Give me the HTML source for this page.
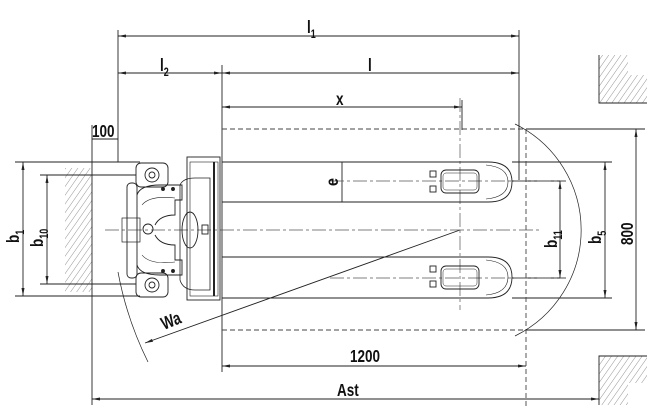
<!DOCTYPE html>
<html><head><meta charset="utf-8"><style>
html,body{margin:0;padding:0;background:#fff;}
svg{display:block;}
text{font-family:"Liberation Sans",sans-serif;font-weight:bold;fill:#111;}
</style></head><body>
<svg width="666" height="409" viewBox="0 0 666 409" xmlns="http://www.w3.org/2000/svg">
<defs>
<pattern id="h" width="5" height="5" patternUnits="userSpaceOnUse" patternTransform="rotate(35)">
<line x1="0" y1="0" x2="0" y2="5" stroke="#666" stroke-width="0.7"/>
</pattern>
<marker id="a" markerWidth="8" markerHeight="6" refX="8" refY="3" orient="auto-start-reverse" markerUnits="userSpaceOnUse">
<path d="M0,1.5 L8,3 L0,4.5" fill="#222"/>
</marker>
</defs>
<g stroke="#222" stroke-width="0.9" fill="none">
<!-- hatched walls -->
<rect x="65" y="168" width="27" height="124" fill="url(#h)" stroke="none"/>
<polygon points="599,55 628,55 628,75 647,75 647,103 599,103" fill="url(#h)" stroke="none"/>
<path d="M599,55 V103 H647"/>
<polygon points="599,356 647,356 647,383 628,383 628,405 599,405" fill="url(#h)" stroke="none"/>
<path d="M599,405 V356 H647"/>

<!-- extension lines -->
<line x1="118" y1="30" x2="118" y2="162"/>
<line x1="519" y1="30" x2="519" y2="180"/>
<line x1="222" y1="65" x2="222" y2="372"/>
<line x1="462" y1="100" x2="462" y2="130"/>
<line x1="92" y1="125" x2="92" y2="405"/>
<line x1="15" y1="162" x2="140" y2="162"/>
<line x1="15" y1="296" x2="140" y2="296"/>
<line x1="40" y1="175" x2="136" y2="175"/>
<line x1="40" y1="284" x2="136" y2="284"/>
<line x1="526" y1="129" x2="645" y2="129"/>
<line x1="526" y1="330" x2="645" y2="330"/>
<line x1="512" y1="162" x2="612" y2="162"/>
<line x1="512" y1="298" x2="612" y2="298"/>
<line x1="512" y1="181" x2="566" y2="181"/>
<line x1="512" y1="278" x2="566" y2="278"/>

<!-- dimension lines -->
<line x1="118" y1="36" x2="519" y2="36" marker-start="url(#a)" marker-end="url(#a)"/>
<line x1="118" y1="73" x2="222" y2="73" marker-start="url(#a)" marker-end="url(#a)"/>
<line x1="222" y1="73" x2="519" y2="73" marker-start="url(#a)" marker-end="url(#a)"/>
<line x1="222" y1="107" x2="462" y2="107" marker-start="url(#a)" marker-end="url(#a)"/>
<line x1="92" y1="139" x2="118" y2="139"/>
<line x1="23" y1="162" x2="23" y2="296" marker-start="url(#a)" marker-end="url(#a)"/>
<line x1="47" y1="175" x2="47" y2="284" marker-start="url(#a)" marker-end="url(#a)"/>
<line x1="560" y1="181" x2="560" y2="278" marker-start="url(#a)" marker-end="url(#a)"/>
<line x1="605" y1="162" x2="605" y2="298" marker-start="url(#a)" marker-end="url(#a)"/>
<line x1="636" y1="129" x2="636" y2="330" marker-start="url(#a)" marker-end="url(#a)"/>
<line x1="342" y1="162" x2="342" y2="202"/>
<line x1="222" y1="366" x2="526" y2="366" marker-start="url(#a)" marker-end="url(#a)"/>
<line x1="92" y1="399" x2="599" y2="399" marker-start="url(#a)" marker-end="url(#a)"/>
<line x1="145" y1="343" x2="460" y2="230" marker-start="url(#a)"/>

<!-- dashed -->
<g stroke-dasharray="5,3" stroke="#444">
<line x1="222" y1="129" x2="526" y2="129"/>
<line x1="222" y1="330" x2="526" y2="330"/>
<line x1="526" y1="129" x2="526" y2="409"/>
</g>
<g stroke-dasharray="14,3,3,3" stroke="#555" stroke-width="0.7">
<line x1="105" y1="230" x2="540" y2="230"/>
<line x1="330" y1="181" x2="566" y2="181"/>
<line x1="330" y1="278" x2="566" y2="278"/>
<line x1="460" y1="98" x2="460" y2="310"/>
</g>

<!-- arcs -->
<path d="M515,124 A118,118 0 0 1 515,336" stroke-width="0.7"/>
<path d="M118,272 A342,342 0 0 0 148,362" stroke-width="0.7"/>

<!-- forks -->
<path d="M222,162 H488 Q512,162 512,182 Q512,202 488,202 H222"/>
<path d="M486,165 Q508,167 508,182 Q508,197 486,199" stroke-width="0.6"/>
<path d="M222,257 H488 Q512,257 512,277 Q512,298 488,298 H222"/>
<path d="M486,260 Q508,262 508,277 Q508,293 486,295" stroke-width="0.6"/>
<rect x="441" y="170" width="38" height="23" rx="5"/>
<rect x="443" y="173" width="34" height="17" rx="3" stroke-width="0.5"/>
<rect x="441" y="266" width="38" height="23" rx="5"/>
<rect x="443" y="269" width="34" height="17" rx="3" stroke-width="0.5"/>
<rect x="430" y="171" width="6" height="6"/><rect x="430" y="186" width="6" height="6"/>
<rect x="430" y="266" width="6" height="6"/><rect x="430" y="281" width="6" height="6"/>

<!-- truck -->
<rect x="187" y="157" width="33" height="143"/>
<rect x="190" y="162" width="28" height="134" stroke-width="0.6"/>
<line x1="214" y1="162" x2="214" y2="296" stroke-width="2"/>
<rect x="127" y="183" width="10" height="95" rx="4"/>
<rect x="122" y="218" width="18" height="24" stroke-width="0.7"/>
<rect x="136" y="163" width="32" height="24" rx="5"/>
<rect x="136" y="273" width="32" height="24" rx="5"/>
<circle cx="152" cy="175" r="7"/><circle cx="152" cy="175" r="3"/>
<circle cx="152" cy="285" r="7"/><circle cx="152" cy="285" r="3"/>
<path d="M137,195 Q140,185 160,185 H182 V200 H175 V215 Q160,215 155,225 M137,265 Q140,275 160,275 H182 V260 H175 V245 Q160,245 155,235"/>
<path d="M142,205 Q150,195 175,198 M142,255 Q150,265 175,262" stroke-width="0.6"/>
<path d="M180,185 Q183,178 195,178 H210 V290 H195 Q183,290 180,280 Z" stroke-width="0.8"/>
<ellipse cx="190" cy="230" rx="8" ry="18"/>
<circle cx="148" cy="229" r="5"/>
<rect x="202" y="225" width="6" height="9"/>
<circle cx="163" cy="189" r="1.5" fill="#222"/><circle cx="173" cy="189" r="1.5" fill="#222"/>
<circle cx="163" cy="271" r="1.5" fill="#222"/><circle cx="173" cy="271" r="1.5" fill="#222"/>
</g>

<!-- labels -->
<g font-size="18">
<text x="307" y="33" transform="translate(307 0) scale(0.75 1) translate(-307 0)">l<tspan font-size="12" dy="5">1</tspan></text>
<text x="160" y="71" transform="translate(160 0) scale(0.75 1) translate(-160 0)">l<tspan font-size="12" dy="5">2</tspan></text>
<text x="368" y="71" transform="translate(368 0) scale(0.75 1) translate(-368 0)">l</text>
<text x="336" y="105" transform="translate(336 0) scale(0.75 1) translate(-336 0)">x</text>
<text x="92" y="137" transform="translate(92 0) scale(0.75 1) translate(-92 0)">100</text>
<text x="350" y="362" transform="translate(350 0) scale(0.75 1) translate(-350 0)">1200</text>
<text x="337" y="396" transform="translate(337 0) scale(0.75 1) translate(-337 0)">Ast</text>
<text transform="translate(164 330) rotate(-22) scale(0.75 1)">Wa</text>
<text transform="translate(19 243) rotate(-90) scale(0.75 1)">b<tspan font-size="12" dy="5">1</tspan></text>
<text transform="translate(43 247) rotate(-90) scale(0.75 1)">b<tspan font-size="12" dy="5">10</tspan></text>
<text transform="translate(557 248) rotate(-90) scale(0.75 1)">b<tspan font-size="12" dy="5">11</tspan></text>
<text transform="translate(601 244) rotate(-90) scale(0.75 1)">b<tspan font-size="12" dy="5">5</tspan></text>
<text transform="translate(633 245) rotate(-90) scale(0.75 1)">800</text>
<text transform="translate(338 186) rotate(-90) scale(0.8 1)">e</text>
</g>
</svg>
</body></html>
